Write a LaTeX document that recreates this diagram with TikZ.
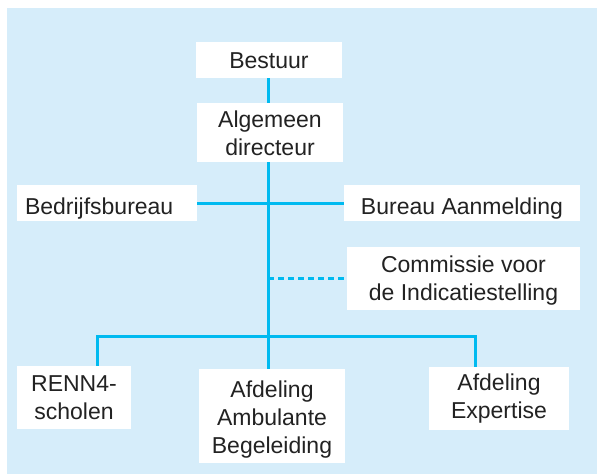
\documentclass[tikz,border=0pt]{standalone}
\usepackage{fontspec}
\setmainfont{Liberation Sans}
\definecolor{bgblue}{HTML}{D6EDFA}
\definecolor{linecyan}{HTML}{00BAF0}
\definecolor{txt}{HTML}{222222}
\begin{document}
\begin{tikzpicture}[x=1pt,y=-1pt,
  box/.style={fill=white,inner sep=0pt,align=center,text=txt,
    font=\fontsize{23}{28}\selectfont},
  conn/.style={draw=linecyan,line width=3pt},
  dconn/.style={draw=linecyan,line width=2.5pt,dash pattern=on 6pt off 4pt}]
\useasboundingbox (0,0) rectangle (597,474);
\fill[bgblue] (7,8) rectangle (597,474);
\coordinate (spine) at (268,0);
\node[box,minimum width=146pt,minimum height=36pt,text height=16pt,text depth=0pt] (bestuur) at (269,60) {Bestuur};
\node[box,minimum width=146pt,minimum height=59pt] (alg) at (270,132.5) {Algemeen\rule{0pt}{18.5pt}\\directeur};
\node[box,minimum width=180pt,minimum height=36pt,text width=164pt,align=left,inner xsep=8pt,text height=22pt,text depth=0pt] (bedr) at (107,203) {Bedrijfsbureau};
\node[box,minimum width=236pt,minimum height=36pt,text height=22pt,text depth=0pt] (aanm) at (462,203) {Bureau Aanmelding};
\node[box,minimum width=233pt,minimum height=63pt] (comm) at (463.5,278.5) {Commissie voor\rule{0pt}{21pt}\\de Indicatiestelling};
\node[box,minimum width=114pt,minimum height=63pt] (renn) at (74,397.5) {RENN4-\\scholen};
\node[box,minimum width=146pt,minimum height=94pt] (amb) at (272,416) {Afdeling\rule{0pt}{23pt}\\Ambulante\\Begeleiding};
\node[box,minimum width=140pt,minimum height=63pt] (exp) at (499,398.5) {Afdeling\\Expertise};
\coordinate (rj) at (97,336);
\coordinate (ej) at (475,336);
\draw[conn] (bestuur.south -| spine) -- (alg.north -| spine);
\draw[conn] (alg.south -| spine) -- (amb.north -| spine);
\draw[conn] (bedr.east) -- (aanm.west);
\draw[dconn] (spine |- comm.west) -- (comm.west);
\draw[conn] (rj |- renn.north) -- (rj) -- (ej) -- (ej |- exp.north);
\end{tikzpicture}
\end{document}
